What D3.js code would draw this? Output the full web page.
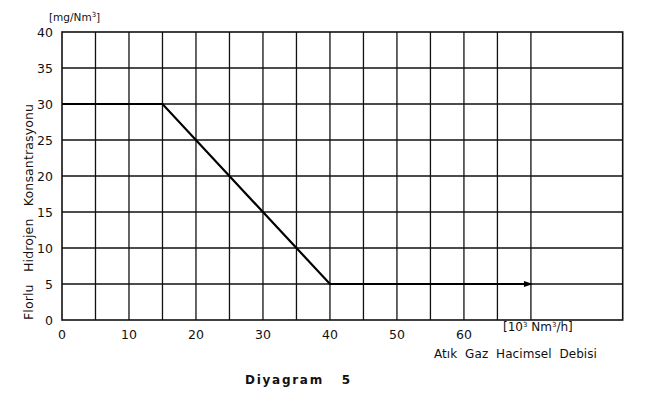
<!DOCTYPE html>
<html><head><meta charset="utf-8">
<script src="https://cdn.jsdelivr.net/npm/d3@7"></script>
<style>body{margin:0;background:#fff}svg{display:block}text{font-family:"DejaVu Sans",sans-serif;fill:#111}</style>
</head><body><svg id="c" width="661" height="410"></svg>
<script>
const xTicks = [0,10,20,30,40,50,60];
const yTicks = [0,5,10,15,20,25,30,35,40];
const xGrid = [5,10,15,20,25,30,35,40,45,50,55,60,65,70];
const yGrid = [5,10,15,20,25,30,35];
const flowX = [0,15,40,70];
const concY = [30,30,5,5];

const svg = d3.select("#c");
const x = d3.scaleLinear().domain([0,83.7]).range([62,622.7]);
const y = d3.scaleLinear().domain([0,40]).range([320,32]);

svg.selectAll(".gv").data(xGrid).enter().append("line")
  .attr("x1",d=>x(d)).attr("x2",d=>x(d)).attr("y1",y(0)).attr("y2",y(40))
  .attr("stroke","#111").attr("stroke-width",1.3);
svg.selectAll(".gh").data(yGrid).enter().append("line")
  .attr("x1",x(0)).attr("x2",x(83.7)).attr("y1",d=>y(d)).attr("y2",d=>y(d))
  .attr("stroke","#111").attr("stroke-width",1.3);
svg.append("rect").attr("x",x(0)).attr("y",y(40)).attr("width",x(83.7)-x(0)).attr("height",y(0)-y(40))
  .attr("fill","none").attr("stroke","#111").attr("stroke-width",1.6);

svg.selectAll(".yt").data(yTicks).enter().append("text")
  .attr("x",53).attr("y",d=>y(d)+5).attr("text-anchor","end").attr("font-size",12.5).text(d=>d);
svg.selectAll(".xt").data(xTicks).enter().append("text")
  .attr("x",d=>x(d)).attr("y",339).attr("text-anchor","middle").attr("font-size",12.5).text(d=>d);

const pts = flowX.map((v,i)=>[x(v),y(concY[i])]);
svg.append("path").attr("d",d3.line()(pts)).attr("fill","none").attr("stroke","#000").attr("stroke-width",2.2);
const e = pts[pts.length-1];
svg.append("path").attr("d",`M${e[0]+2},${e[1]} L${e[0]-7},${e[1]-3} L${e[0]-7},${e[1]+3} Z`).attr("fill","#000");

const cond = '"DejaVu Sans Condensed","DejaVu Sans",sans-serif';
svg.append("text").attr("x",49).attr("y",21).attr("font-size",10.5).attr("font-family",cond)
  .html('[mg/Nm<tspan dy="-4" font-size="7">3</tspan><tspan dy="4">]</tspan>');
svg.append("text").attr("x",503).attr("y",331).attr("font-size",12).attr("font-family",cond)
  .html('[10<tspan dy="-4" font-size="7">3</tspan><tspan dy="4"> Nm</tspan><tspan dy="-4" font-size="7">3</tspan><tspan dy="4">/h]</tspan>');
svg.append("text").attr("x",434).attr("y",358).attr("font-size",12).attr("font-family",cond).attr("letter-spacing",1.1)
  .attr("xml:space","preserve").text("Atık  Gaz  Hacimsel  Debisi")
  .attr("textLength",164).attr("lengthAdjust","spacing");
svg.append("text").attr("x",245).attr("y",384).attr("font-size",12).attr("font-weight","bold").attr("font-family",cond)
  .attr("xml:space","preserve").text("Diyagram   5")
  .attr("textLength",105).attr("lengthAdjust","spacing");
svg.append("text").attr("transform","translate(33,320) rotate(-90)").attr("font-size",12.5).attr("font-family",cond)
  .attr("xml:space","preserve").text("Florlu   Hidrojen   Konsantrasyonu")
  .attr("textLength",216).attr("lengthAdjust","spacing");
</script></body></html>
